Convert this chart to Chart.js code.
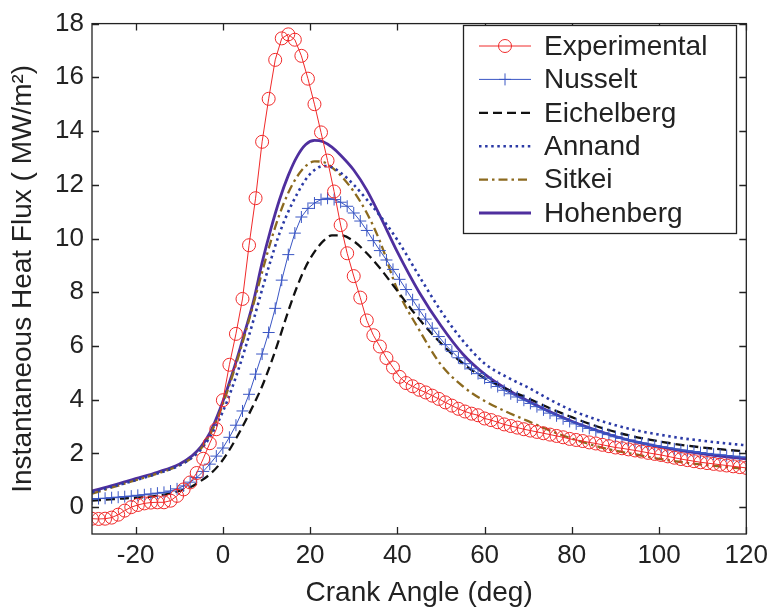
<!DOCTYPE html>
<html>
<head>
<meta charset="utf-8">
<script src="https://cdn.jsdelivr.net/npm/chart.js@4/dist/chart.umd.min.js"></script>
<style>
  html, body { margin: 0; padding: 0; background: #fff; }
  #c { display: block; }
</style>
</head>
<body>
<canvas id="c" width="774" height="613"></canvas>
<script>
// ── Daten ───────────────────────────────────────────────────────────────────
const expAngle = [
  -30, -28.5, -27, -25.5, -24, -22.5, -21, -19.5, -18, -16.5,
  -15, -13.5, -12, -10.5, -9, -7.5, -6, -4.5, -3, -1.5,
  0, 1.5, 3, 4.5, 6, 7.5, 9, 10.5, 12, 13.5,
  15, 16.5, 18, 19.5, 21, 22.5, 24, 25.5, 27, 28.5,
  30, 31.5, 33, 34.5, 36, 37.5, 39, 40.5, 42, 43.5,
  45, 46.5, 48, 49.5, 51, 52.5, 54, 55.5, 57, 58.5,
  60, 61.5, 63, 64.5, 66, 67.5, 69, 70.5, 72, 73.5,
  75, 76.5, 78, 79.5, 81, 82.5, 84, 85.5, 87, 88.5,
  90, 91.5, 93, 94.5, 96, 97.5, 99, 100.5, 102, 103.5,
  105, 106.5, 108, 109.5, 111, 112.5, 114, 115.5, 117, 118.5,
  120];
const expFlux = [
  -0.43, -0.44, -0.43, -0.39, -0.28, -0.13, 0.00, 0.08, 0.14, 0.17,
  0.18, 0.18, 0.24, 0.42, 0.66, 0.92, 1.27, 1.80, 2.38, 2.90,
  3.98, 5.30, 6.45, 7.75, 9.75, 11.5, 13.6, 15.2, 16.65, 17.45,
  17.6, 17.4, 16.8, 15.95, 15.0, 13.95, 12.9, 11.75, 10.5, 9.45,
  8.6, 7.8, 6.95, 6.4, 5.98, 5.55, 5.2, 4.85, 4.62, 4.5,
  4.37, 4.27, 4.15, 4.03, 3.9, 3.78, 3.66, 3.56, 3.48, 3.42,
  3.3, 3.24, 3.16, 3.08, 3.02, 2.96, 2.9, 2.85, 2.8, 2.75,
  2.7, 2.65, 2.6, 2.54, 2.5, 2.46, 2.41, 2.37, 2.32, 2.27,
  2.22, 2.19, 2.15, 2.11, 2.07, 2.02, 1.98, 1.94, 1.89, 1.84,
  1.79, 1.75, 1.71, 1.67, 1.64, 1.61, 1.58, 1.55, 1.52, 1.49,
  1.46];
// Nusselt: gleiche Winkel wie die Messung (Marker ebenso dicht)
const nusseltFlux = [
  0.30, 0.32, 0.33, 0.35, 0.37, 0.39, 0.41, 0.44, 0.46, 0.49,
  0.52, 0.55, 0.60, 0.68, 0.79, 0.93, 1.10, 1.33, 1.60, 1.90,
  2.20, 2.60, 3.05, 3.58, 4.20, 4.95, 5.70, 6.50, 7.40, 8.45,
  9.40, 10.2, 10.8, 11.12, 11.32, 11.45, 11.5, 11.45, 11.35, 11.2,
  10.95, 10.65, 10.3, 9.92, 9.55, 9.2, 8.85, 8.48, 8.1, 7.72,
  7.35, 7.0, 6.66, 6.35, 6.05, 5.8, 5.56, 5.34, 5.15, 4.97,
  4.8, 4.64, 4.49, 4.35, 4.22, 4.1, 3.98, 3.86, 3.74, 3.62,
  3.5, 3.4, 3.29, 3.19, 3.1, 3.01, 2.93, 2.85, 2.77, 2.7,
  2.62, 2.56, 2.5, 2.44, 2.39, 2.34, 2.29, 2.25, 2.21, 2.17,
  2.13, 2.1, 2.07, 2.03, 2.0, 1.97, 1.95, 1.92, 1.9, 1.87,
  1.85];

// Modellkurven: Stuetzstellen
const modelAngle = [-30, -25, -20, -15, -10, -7, -5, -3, -1, 1, 3, 5, 7, 9, 11, 13, 15, 17, 19, 21,
  23, 25, 27, 30, 33, 36, 40, 45, 50, 55, 60, 65, 70, 75, 80, 85, 90, 95, 100, 105, 110, 115, 120];
const eichelbergFlux = [0.24, 0.3, 0.35, 0.42, 0.6, 0.78, 0.98, 1.22, 1.55, 2.0, 2.55, 3.15, 3.8, 4.5,
  5.35, 6.3, 7.3, 8.2, 8.95, 9.5, 9.9, 10.12, 10.12, 9.9, 9.45, 8.9, 8.05, 7.0, 6.1, 5.35, 4.8, 4.4,
  4.05, 3.68, 3.35, 3.05, 2.8, 2.6, 2.45, 2.32, 2.22, 2.14, 2.07];
const annandFlux = [0.55, 0.78, 1.0, 1.25, 1.55, 1.85, 2.15, 2.6, 3.2, 3.95, 4.85, 5.85, 6.95, 8.1,
  9.2, 10.2, 11.0, 11.65, 12.2, 12.55, 12.7, 12.65, 12.45, 12.0, 11.45, 10.85, 9.95, 8.6, 7.3, 6.2,
  5.35, 4.85, 4.45, 4.0, 3.6, 3.3, 3.05, 2.85, 2.7, 2.57, 2.47, 2.38, 2.3];
const sitkeiFlux = [0.5, 0.75, 1.0, 1.25, 1.55, 1.85, 2.18, 2.68, 3.4, 4.3, 5.3, 6.4, 7.55, 8.75,
  9.9, 10.9, 11.7, 12.3, 12.7, 12.87, 12.85, 12.65, 12.35, 11.75, 10.95, 9.9, 8.1, 6.6, 5.3, 4.5,
  3.95, 3.55, 3.2, 2.85, 2.55, 2.3, 2.1, 1.95, 1.8, 1.68, 1.58, 1.5, 1.42];
const hohenbergFlux = [0.6, 0.82, 1.06, 1.3, 1.6, 1.92, 2.25, 2.75, 3.5, 4.4, 5.4, 6.5, 7.65, 9.1,
  10.35, 11.45, 12.35, 13.05, 13.5, 13.65, 13.6, 13.4, 13.1, 12.55, 11.8, 10.85, 9.5, 8.0, 6.75, 5.7,
  4.95, 4.4, 3.95, 3.55, 3.2, 2.9, 2.63, 2.42, 2.25, 2.1, 1.98, 1.88, 1.8];

const xTicks = [-20, 0, 20, 40, 60, 80, 100, 120];
const yTicks = [0, 2, 4, 6, 8, 10, 12, 14, 16, 18];

// ── Hilfen ──────────────────────────────────────────────────────────────────
const FONT = "'Liberation Sans', Arial, Helvetica, sans-serif";
const INK = '#222';
const pts = (xs, ys) => xs.map((x, i) => ({ x, y: ys[i] }));

// Kasten + Ticks nach innen (MATLAB-Stil)
const frame = {
  id: 'frame',
  afterDatasetsDraw(ch) {
    const { ctx, chartArea: a, scales } = ch;
    const L = 7;
    ctx.save();
    ctx.strokeStyle = INK;
    ctx.lineWidth = 1.3;
    ctx.strokeRect(a.left, a.top, a.right - a.left, a.bottom - a.top);
    ctx.beginPath();
    xTicks.forEach(v => {
      const px = Math.round(scales.x.getPixelForValue(v)) + 0.5;
      ctx.moveTo(px, a.bottom); ctx.lineTo(px, a.bottom - L);
      ctx.moveTo(px, a.top); ctx.lineTo(px, a.top + L);
    });
    yTicks.forEach(v => {
      const py = Math.round(scales.y.getPixelForValue(v)) + 0.5;
      ctx.moveTo(a.left, py); ctx.lineTo(a.left + L, py);
      ctx.moveTo(a.right, py); ctx.lineTo(a.right - L, py);
    });
    ctx.stroke();
    ctx.restore();
  },
};

// Legende oben rechts im Plotbereich
const legendBox = {
  id: 'legendBox',
  afterDraw(ch) {
    const ctx = ch.ctx;
    const x0 = 463, y0 = 25, w = 273, h = 208;
    ctx.save();
    ctx.fillStyle = '#fff';
    ctx.fillRect(x0, y0, w, h);
    ctx.strokeStyle = INK;
    ctx.lineWidth = 1.3;
    ctx.strokeRect(x0 + 0.5, y0 + 0.5, w, h);
    ch.data.datasets.forEach((ds, i) => {
      const y = y0 + 21 + i * 33.4;
      ctx.strokeStyle = ds.borderColor;
      ctx.lineWidth = ds.borderWidth;
      ctx.setLineDash(ds.borderDash || []);
      ctx.beginPath(); ctx.moveTo(x0 + 16, y); ctx.lineTo(x0 + 68, y); ctx.stroke();
      ctx.setLineDash([]);
      const mx = x0 + 42, r = ds.pointRadius || 0;
      ctx.lineWidth = 1;
      if (r && ds.pointStyle === 'circle') {
        ctx.beginPath(); ctx.arc(mx, y, r, 0, Math.PI * 2); ctx.stroke();
      } else if (r && ds.pointStyle === 'cross') {
        ctx.beginPath();
        ctx.moveTo(mx - r, y); ctx.lineTo(mx + r, y);
        ctx.moveTo(mx, y - r); ctx.lineTo(mx, y + r);
        ctx.stroke();
      }
      ctx.fillStyle = INK;
      ctx.font = '28px ' + FONT;
      ctx.textBaseline = 'middle';
      ctx.fillText(ds.label, x0 + 81, y + 1);
    });
    ctx.restore();
  },
};

// ── Chart ───────────────────────────────────────────────────────────────────
new Chart(document.getElementById('c'), {
  type: 'line',
  data: {
    datasets: [
      { label: 'Experimental', data: pts(expAngle, expFlux),
        borderColor: '#f02a2a', borderWidth: 1, backgroundColor: 'rgba(0,0,0,0)',
        pointStyle: 'circle', pointRadius: 6.5, pointBorderWidth: 1,
        pointBorderColor: '#f02a2a', pointBackgroundColor: 'rgba(0,0,0,0)', tension: 0 },
      { label: 'Nusselt', data: pts(expAngle, nusseltFlux),
        borderColor: '#3a56c4', borderWidth: 1, backgroundColor: 'rgba(0,0,0,0)',
        pointStyle: 'cross', pointRadius: 6, pointBorderWidth: 1,
        pointBorderColor: '#3a56c4', tension: 0 },
      { label: 'Eichelberg', data: pts(modelAngle, eichelbergFlux),
        borderColor: '#111', borderWidth: 2.3, borderDash: [9, 5],
        pointRadius: 0, cubicInterpolationMode: 'monotone' },
      { label: 'Annand', data: pts(modelAngle, annandFlux),
        borderColor: '#2b3aa6', borderWidth: 2.6, borderDash: [2.5, 3.6],
        pointRadius: 0, cubicInterpolationMode: 'monotone' },
      { label: 'Sitkei', data: pts(modelAngle, sitkeiFlux),
        borderColor: '#8c6a1f', borderWidth: 2.3, borderDash: [9, 4, 2.5, 4],
        pointRadius: 0, cubicInterpolationMode: 'monotone' },
      { label: 'Hohenberg', data: pts(modelAngle, hohenbergFlux),
        borderColor: '#4f2f9e', borderWidth: 2.8,
        pointRadius: 0, cubicInterpolationMode: 'monotone' },
    ],
  },
  options: {
    responsive: false, animation: false, devicePixelRatio: 1,
    layout: { padding: { top: 15, right: 27, bottom: 0, left: 0 } },
    plugins: { legend: { display: false }, tooltip: { enabled: false } },
    scales: {
      x: {
        type: 'linear', min: -30, max: 120,
        afterBuildTicks: s => { s.ticks = xTicks.map(v => ({ value: v })); },
        afterFit: s => { s.height = 79; },
        grid: { display: false, drawTicks: false },
        border: { display: false },
        ticks: { color: INK, font: { family: FONT, size: 26 }, padding: 6, maxRotation: 0 },
        title: { display: true, text: 'Crank Angle (deg)', color: INK,
                 font: { family: FONT, size: 28 }, padding: { top: 0, bottom: 3 } },
      },
      y: {
        min: -1, max: 18,
        afterBuildTicks: s => { s.ticks = yTicks.map(v => ({ value: v })); },
        afterFit: s => { s.width = 92; },
        grid: { display: false, drawTicks: false },
        border: { display: false },
        ticks: { color: INK, font: { family: FONT, size: 26 }, padding: 8 },
        title: { display: true, text: 'Instantaneous Heat Flux ( MW/m²)', color: INK,
                 font: { family: FONT, size: 28 }, padding: { top: 6, bottom: 0 } },
      },
    },
  },
  plugins: [frame, legendBox],
});
</script>
</body>
</html>
